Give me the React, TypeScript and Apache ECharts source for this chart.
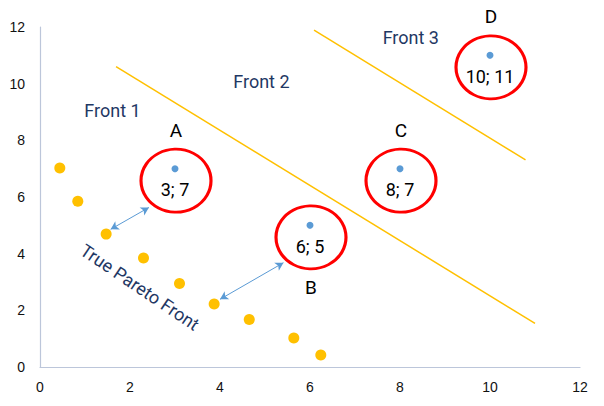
import React, { useEffect, useRef } from "react";
import * as echarts from "echarts";

const xTicks = [0, 2, 4, 6, 8, 10, 12];
const yTicks = [0, 2, 4, 6, 8, 10, 12];

const trueFrontX = [0.44, 0.84, 1.47, 2.3, 3.1, 3.87, 4.65, 5.64, 6.24];
const trueFrontY = [7.02, 5.85, 4.69, 3.85, 2.95, 2.22, 1.68, 1.02, 0.42];

const solutionNames = ["A", "B", "C", "D"];
const solutionX = [3, 6, 8, 10];
const solutionY = [7, 5, 7, 11];
const solutionNamePos = ["top", "bottom", "top", "top"];

const divider1 = [
  [1.69, 10.6],
  [11.0, 1.54],
];
const divider2 = [
  [6.09, 11.89],
  [10.79, 7.31],
];

const arrows = [
  [
    [1.57, 4.86],
    [2.42, 5.63],
  ],
  [
    [4.0, 2.39],
    [5.41, 3.68],
  ],
];

const annotationTexts = ["Front 1", "Front 2", "Front 3", "True Pareto Front"];
const annotationX = [1.61, 4.92, 8.24, 2.22];
const annotationY = [9.07, 10.07, 11.63, 2.82];
const annotationRotate = [0, 0, 0, -34];

const YELLOW = "#FFC000";
const BLUE = "#5B9BD5";
const NAVY = "#1F3864";
const FONT = "Roboto, 'Noto Sans', sans-serif";

export default function App() {
  const ref = useRef<HTMLDivElement>(null);

  useEffect(() => {
    if (!ref.current) return;
    const chart = echarts.init(ref.current, undefined, { renderer: "svg" });

    const option: any = {
      animation: false,
      backgroundColor: "#ffffff",
      grid: { left: 40, right: 24, top: 27, bottom: 39, containLabel: false },
      xAxis: {
        type: "value",
        min: xTicks[0],
        max: xTicks[xTicks.length - 1],
        interval: 2,
        axisLine: { show: true, lineStyle: { color: "#BCC6DA", width: 1.2 } },
        axisTick: { show: false },
        splitLine: { show: false },
        axisLabel: {
          color: "#111",
          fontSize: 14,
          fontFamily: "'Liberation Sans', Arial, sans-serif",
          margin: 13,
        },
      },
      yAxis: {
        type: "value",
        min: yTicks[0],
        max: yTicks[yTicks.length - 1],
        interval: 2,
        axisLine: { show: true, lineStyle: { color: "#BCC6DA", width: 1.2 } },
        axisTick: { show: false },
        splitLine: { show: false },
        axisLabel: {
          color: "#111",
          fontSize: 14,
          fontFamily: "'Liberation Sans', Arial, sans-serif",
          margin: 15,
        },
      },
      series: [
        {
          type: "line",
          data: divider1,
          symbol: "none",
          lineStyle: { color: YELLOW, width: 1.5 },
          silent: true,
        },
        {
          type: "line",
          data: divider2,
          symbol: "none",
          lineStyle: { color: YELLOW, width: 1.5 },
          silent: true,
        },
        {
          type: "scatter",
          data: trueFrontX.map((x, i) => [x, trueFrontY[i]]),
          symbolSize: 11,
          itemStyle: { color: YELLOW, opacity: 1 },
          markLine: {
            silent: true,
            symbol: ["arrow", "arrow"],
            symbolSize: [7, 8],
            label: { show: false },
            lineStyle: { color: BLUE, width: 1, type: "solid", opacity: 1 },
            data: arrows.map((a) => [{ coord: a[0] }, { coord: a[1] }]),
          },
        },
        {
          type: "scatter",
          data: solutionX.map((x, i) => ({
            value: [x, solutionY[i]],
            name: solutionNames[i],
            label: { position: solutionNamePos[i] },
          })),
          symbol: "circle",
          symbolSize: [70, 63],
          symbolOffset: [1, 12],
          itemStyle: {
            color: "rgba(255,255,255,0)",
            borderColor: "#FF0000",
            borderWidth: 3,
            opacity: 1,
          },
          label: {
            show: true,
            formatter: (p: any) => p.name,
            color: "#000",
            opacity: 1,
            fontSize: 19,
            fontFamily: FONT,
            distance: 8,
          },
          z: 3,
        },
        {
          type: "scatter",
          data: solutionX.map((x, i) => [x, solutionY[i]]),
          symbolSize: 7,
          itemStyle: { color: BLUE, opacity: 1 },
          label: {
            show: true,
            position: "inside",
            offset: [0, 21],
            formatter: (p: any) => `${p.value[0]}; ${p.value[1]}`,
            color: "#000",
            opacity: 1,
            fontSize: 18,
            fontFamily: FONT,
          },
          z: 4,
        },
        {
          type: "scatter",
          data: annotationX.map((x, i) => ({
            value: [x, annotationY[i]],
            name: annotationTexts[i],
            label: { rotate: annotationRotate[i] },
          })),
          symbolSize: 1,
          itemStyle: { color: "rgba(255,255,255,0)", opacity: 1 },
          label: {
            show: true,
            position: "inside",
            formatter: (p: any) => p.name,
            color: NAVY,
            opacity: 1,
            fontSize: 18,
            fontFamily: FONT,
          },
          silent: true,
          z: 5,
        },
      ],
    };

    chart.setOption(option);
    return () => chart.dispose();
  }, []);

  return (
    <div
      ref={ref}
      style={{ position: "fixed", left: 0, top: 0, width: 604, height: 406 }}
    />
  );
}
